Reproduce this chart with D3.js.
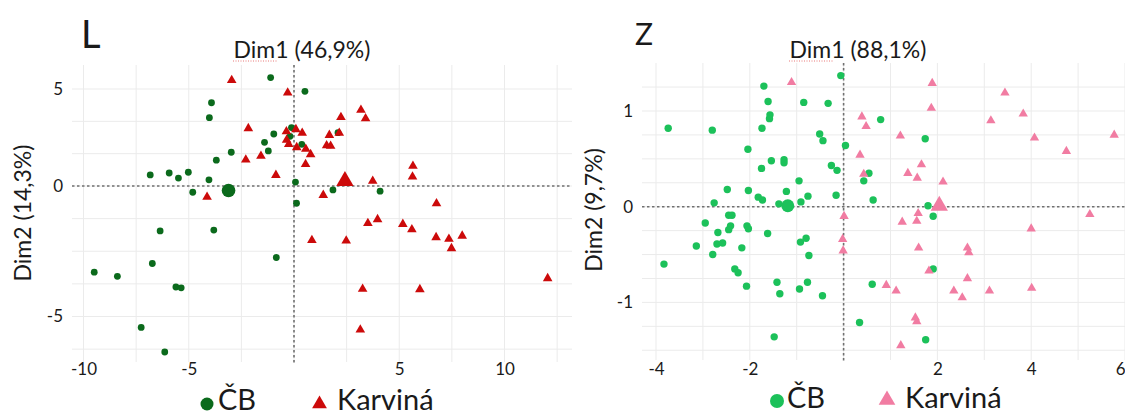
<!DOCTYPE html>
<html><head><meta charset="utf-8">
<script src="https://cdn.jsdelivr.net/npm/d3@7"></script>
<style>body{margin:0;background:#fff}svg text{font-family:Lato,"Open Sans",sans-serif;fill:#1a1a1a}</style>
</head><body><svg id="c" width="1125" height="417"></svg>
<script>
// ---------- DATA ----------
const groupNames = ["ČB", "Karviná"];
const panelTitles = ["L", "Z"];
const dim1Labels = ["Dim1 (46,9%)", "Dim1 (88,1%)"];
const dim2Labels = ["Dim2 (14,3%)", "Dim2 (9,7%)"];

// Panel L
const L_CB = [[-1.11,5.59],[0.52,4.88],[-3.92,4.29],[-4.02,3.52],[-0.12,3.01],[-0.19,2.56],[-0.96,2.68],[-1.40,2.25],[0.37,2.15],[2.09,2.75],[-1.22,1.81],[-2.98,1.74],[-3.69,1.33],[-6.83,0.57],[-5.93,0.67],[-5.49,0.41],[-5.02,0.71],[-4.04,0.32],[-4.81,-0.24],[0.07,0.20],[1.85,-0.15],[4.09,-0.20],[0.12,-0.66],[-6.36,-1.72],[-3.81,-1.69],[-0.84,-2.74],[-6.73,-2.97],[-9.49,-3.30],[-8.39,-3.46],[-5.61,-3.87],[-5.36,-3.90],[-7.26,-5.42],[-6.14,-6.36]];
const L_Karvina = [[-2.96,5.45],[-0.30,4.81],[3.18,3.92],[2.23,3.54],[3.40,3.48],[-2.17,2.97],[-0.36,2.81],[0.09,2.92],[0.39,2.73],[2.15,2.73],[1.68,2.62],[-0.35,2.37],[-0.25,2.15],[1.55,2.09],[1.74,2.06],[0.13,1.99],[0.56,1.91],[0.79,1.63],[-2.29,1.35],[-1.57,1.55],[0.55,1.12],[-0.86,0.56],[3.74,0.26],[5.65,1.03],[5.63,0.48],[-4.13,-0.42],[1.39,-0.35],[6.77,-0.67],[3.51,-1.43],[3.97,-1.28],[5.17,-1.46],[5.60,-1.67],[0.85,-2.08],[2.48,-2.10],[6.75,-1.97],[7.36,-2.03],[7.99,-1.91],[7.48,-2.39],[12.05,-3.54],[3.26,-3.95],[5.98,-3.96],[3.15,-5.51]];
const L_centroids = [[-3.11,-0.17],[2.42,0.26]];
const L_xTicks = [-10,-5,5,10];
const L_yTicks = [5,0,-5];
const L_xGrid = [-10,-7.5,-5,-2.5,0,2.5,5,7.5,10,12.5];
const L_yGrid = [5,10/3,5/3,0,-1.25,-2.5,-3.75,-5,-6.25];

// Panel Z
const Z_CB = [[-3.74,0.82],[-2.80,0.80],[-1.70,1.26],[-1.61,1.10],[-1.57,0.96],[-1.58,0.92],[-1.74,0.82],[-2.04,0.60],[-1.54,0.48],[-1.75,0.40],[-1.27,0.49],[-1.27,0.46],[-0.85,1.09],[-0.33,1.08],[-0.06,1.37],[-0.51,0.76],[-0.44,0.69],[0.04,0.64],[-0.26,0.43],[-0.14,0.38],[-0.95,0.27],[-2.48,0.18],[-2.03,0.17],[-1.82,0.10],[-1.73,0.07],[-1.22,0.16],[-0.76,0.11],[-0.16,0.12],[-2.76,0.04],[-0.91,0.05],[-1.38,0.03],[-2.45,-0.09],[-2.38,-0.09],[-2.95,-0.17],[-2.41,-0.20],[-2.45,-0.24],[-2.06,-0.20],[-2.03,-0.23],[-1.62,-0.28],[-2.68,-0.27],[-2.70,-0.39],[-2.58,-0.38],[-3.14,-0.41],[-2.17,-0.43],[-2.79,-0.50],[-0.92,-0.37],[-0.80,-0.33],[-0.74,-0.51],[-3.83,-0.60],[-2.32,-0.65],[-2.25,-0.69],[-2.07,-0.83],[-1.42,-0.79],[-1.36,-0.91],[-0.94,-0.86],[-0.77,-0.79],[-0.45,-0.93],[-1.48,-1.36],[0.79,0.91],[1.74,0.71],[0.54,0.35],[0.43,0.27],[0.63,0.07],[1.80,0.01],[1.91,-0.10],[1.91,-0.65],[0.61,-0.81],[0.34,-1.21],[1.75,-1.39]];
const Z_Karvina = [[-1.11,1.30],[1.89,1.29],[1.87,1.03],[0.39,0.94],[0.48,0.84],[1.21,0.74],[0.35,0.54],[1.66,0.44],[0.43,0.34],[1.37,0.35],[1.57,0.30],[2.12,0.26],[3.44,1.19],[3.83,0.97],[3.14,0.90],[4.07,0.72],[5.77,0.75],[4.75,0.58],[0.01,-0.10],[1.59,-0.07],[1.25,-0.16],[1.56,-0.15],[5.25,-0.08],[4.00,-0.23],[-0.02,-0.34],[-0.01,-0.46],[1.60,-0.43],[2.64,-0.43],[2.67,-0.48],[1.82,-0.67],[2.64,-0.75],[0.91,-0.82],[1.12,-0.88],[2.35,-0.88],[3.11,-0.88],[4.01,-0.85],[2.53,-0.95],[1.53,-1.16],[1.56,-1.20],[1.22,-1.45]];
const Z_centroids = [[-1.19,0.01],[2.04,0.01]];
const Z_xTicks = [-4,-2,2,4,6];
const Z_yTicks = [1,0,-1];
const Z_xGrid = [-4,-3,-2,-1,0,1,2,3,4,5,6];
const Z_yGrid = [-1.5,-1.25,-1,-0.75,-0.5,-0.25,0,0.25,0.5,0.75,1,1.25];

// ---------- DRAW ----------
const svg = d3.select("#c");

function drawPanel(o){
  const g = svg.append("g");
  const [x0,x1,y0,y1] = o.box;
  g.append("rect").attr("x",x0).attr("y",y0).attr("width",x1-x0).attr("height",y1-y0).attr("fill","#fff");
  g.selectAll(".gx").data(o.xGrid).enter().append("line")
    .attr("x1",d=>o.x(d)).attr("x2",d=>o.x(d)).attr("y1",y0).attr("y2",y1)
    .attr("stroke","#ebebeb").attr("stroke-width",1);
  g.selectAll(".gy").data(o.yGrid).enter().append("line")
    .attr("y1",d=>o.y(d)).attr("y2",d=>o.y(d)).attr("x1",x0).attr("x2",x1)
    .attr("stroke","#ebebeb").attr("stroke-width",1);
  g.append("line").attr("x1",o.x(0)).attr("x2",o.x(0)).attr("y1",y0).attr("y2",y1+3)
    .attr("stroke","#707070").attr("stroke-width",1.6).attr("stroke-dasharray","2.5,2.5");
  g.append("line").attr("x1",x0).attr("x2",x1).attr("y1",o.y(0)).attr("y2",o.y(0))
    .attr("stroke","#707070").attr("stroke-width",1.6).attr("stroke-dasharray","2.5,2.5");
  const ax = g.append("g").attr("transform",`translate(0,${o.xAxisY})`)
    .call(d3.axisBottom(o.x).tickValues(o.xTicks).tickSize(0).tickPadding(3).tickFormat(d3.format("d")));
  const ay = g.append("g").attr("transform",`translate(${o.yAxisX},0)`)
    .call(d3.axisLeft(o.y).tickValues(o.yTicks).tickSize(0).tickPadding(3).tickFormat(d3.format("d")));
  [ax,ay].forEach(a=>{a.select(".domain").remove();a.selectAll("text").attr("font-size",17).attr("font-family","Lato").attr("fill","#1a1a1a").text(function(){return this.textContent.replace("−","-");});});
  // keep a tick label that sits on the right edge visible
  ax.selectAll(".tick").filter(d=>o.x(d)>=1120).select("text").attr("text-anchor","end");
  const tri = d3.symbol().type(d3.symbolTriangle);
  g.selectAll(".cb").data(o.cb).enter().append("circle")
    .attr("cx",d=>o.x(d[0])).attr("cy",d=>o.y(d[1])).attr("r",o.r).attr("fill",o.colA);
  g.selectAll(".kv").data(o.kv).enter().append("path")
    .attr("d",tri.size(o.triA)()).attr("transform",d=>`translate(${o.x(d[0])},${o.y(d[1])})`).attr("fill",o.colB);
  g.append("circle").attr("cx",o.x(o.cent[0][0])).attr("cy",o.y(o.cent[0][1])).attr("r",o.rBig).attr("fill",o.colA);
  g.append("path").attr("d",d3.symbol().type(d3.symbolTriangle).size(o.triBig)())
    .attr("transform",`translate(${o.x(o.cent[1][0])},${o.y(o.cent[1][1])})`).attr("fill",o.colB);
  g.append("text").attr("x",o.titleX).attr("y",o.titleY).attr("font-size",o.titleSize).text(o.title);
  g.append("text").attr("x",o.dim1X).attr("y",58).attr("font-size",23).attr("text-anchor","middle").text(o.dim1);
  g.append("text").attr("transform",`translate(${o.dim2X},${o.dim2Y}) rotate(-90)`).attr("font-size",23).attr("text-anchor","middle").text(o.dim2);
  const L = o.legend;
  g.append("circle").attr("cx",L.cx).attr("cy",L.cy).attr("r",L.r).attr("fill",o.colA);
  g.append("text").attr("x",L.t1).attr("y",L.base).attr("font-size",29).text(groupNames[0]);
  g.append("path").attr("d",d3.symbol().type(d3.symbolTriangle).size(L.triA)())
    .attr("transform",`translate(${L.tx},${L.ty})`).attr("fill",o.colB);
  g.append("text").attr("x",L.t2).attr("y",L.base).attr("font-size",29).text(groupNames[1]);
  return g;
}

const xL = d3.scaleLinear().domain([-10,10]).range([83.5,504.5]);
const yL = d3.scaleLinear().domain([-5,0,5]).range([316.5,186,89]);
const gL = drawPanel({box:[72,572,65,362],x:xL,y:yL,xGrid:L_xGrid,yGrid:L_yGrid,xTicks:L_xTicks,yTicks:L_yTicks,
  xAxisY:360,yAxisX:66,cb:L_CB,kv:L_Karvina,cent:L_centroids,r:3.4,triA:40,rBig:6.8,triBig:130,
  colA:"#0b6a1c",colB:"#cc0a0a",title:panelTitles[0],titleX:81,titleY:48,titleSize:38,
  dim1:dim1Labels[0],dim1X:302,dim2:dim2Labels[0],dim2X:31,dim2Y:213,
  legend:{cx:207,cy:404,r:6.5,t1:218,base:410,tx:319.5,ty:404,triA:95,t2:337}});
gL.append("line").attr("x1",233).attr("x2",277).attr("y1",61).attr("y2",61).attr("stroke","#e87878").attr("stroke-width",1).attr("stroke-dasharray","1,1.5");

const xZ = d3.scaleLinear().domain([-4,6]).range([656,1125]);
const yZ = d3.scaleLinear().domain([-1,1]).range([302.4,111]);
const gZ = drawPanel({box:[642,1125,63,360],x:xZ,y:yZ,xGrid:Z_xGrid,yGrid:Z_yGrid,xTicks:Z_xTicks,yTicks:Z_yTicks,
  xAxisY:360,yAxisX:636,cb:Z_CB,kv:Z_Karvina,cent:Z_centroids,r:3.7,triA:38,rBig:6.5,triBig:130,
  colA:"#1cc15a",colB:"#f17ca2",title:panelTitles[1],titleX:635,titleY:45,titleSize:30,
  dim1:dim1Labels[1],dim1X:858,dim2:dim2Labels[1],dim2X:602,dim2Y:210,
  legend:{cx:777,cy:401,r:7,t1:787,base:408,tx:887,ty:400,triA:120,t2:905}});
gZ.append("line").attr("x1",789).attr("x2",833).attr("y1",61).attr("y2",61).attr("stroke","#e87878").attr("stroke-width",1).attr("stroke-dasharray","1,1.5");
</script>
</body></html>
